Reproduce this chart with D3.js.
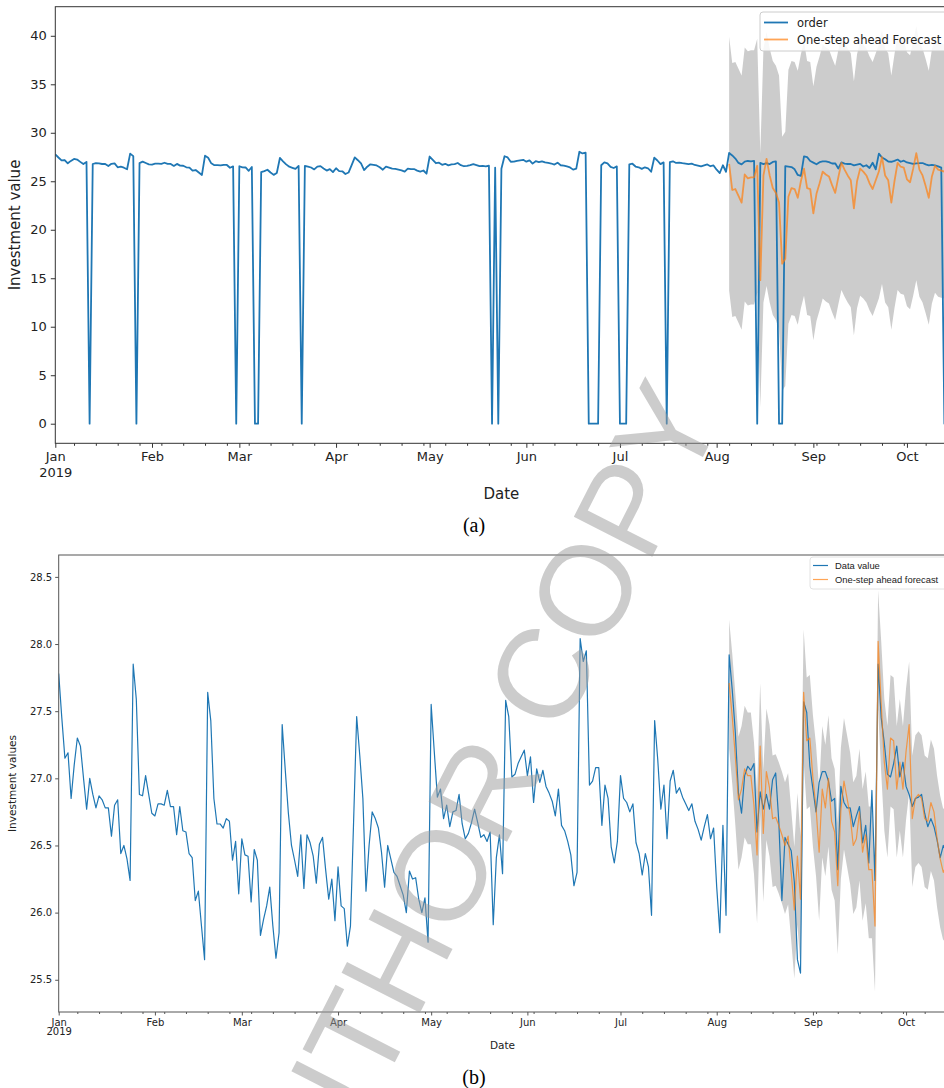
<!DOCTYPE html>
<html>
<head>
<meta charset="utf-8">
<script src="https://cdn.jsdelivr.net/npm/d3@7"></script>
<style>
	body { margin: 0; background: #fff; }
	svg { display: block; }
</style>
</head>
<body>
<svg id="chart" width="944" height="1088"></svg>
<script>
//Values. Day index = days since 1 Jan 2019.
const startDate = new Date(2019, 0, 1);
const endDate = new Date(2019, 9, 14);

//Daily investment value (cleaned series, panel b)
const dataValues = [
	27.78, 27.45, 27.15, 27.19, 26.85, 27.10, 27.30, 27.24, 27.00, 26.77,
	27.00, 26.88, 26.78, 26.87, 26.84, 26.78, 26.78, 26.57, 26.80, 26.84,
	26.44, 26.50, 26.40, 26.24, 27.85, 27.59, 26.88, 26.87, 27.02, 26.88,
	26.74, 26.72, 26.81, 26.81, 26.80, 26.91, 26.79, 26.79, 26.58, 26.79,
	26.61, 26.60, 26.44, 26.41, 26.09, 26.16, 25.90, 25.65, 27.64, 27.43,
	26.85, 26.66, 26.66, 26.63, 26.70, 26.68, 26.39, 26.53, 26.14, 26.55,
	26.43, 26.42, 26.08, 26.47, 26.39, 25.83, 25.95, 26.05, 26.19, 25.90,
	25.66, 25.85, 27.40, 27.06, 26.74, 26.50, 26.39, 26.27, 26.58, 26.18,
	26.58, 26.52, 26.42, 26.22, 26.51, 26.56, 26.32, 26.10, 26.25, 25.94,
	26.34, 26.05, 26.03, 25.75, 25.90, 26.67, 27.46, 27.17, 26.85, 26.16,
	26.50, 26.75, 26.70, 26.63, 26.45, 26.19, 26.50, 26.40, 26.30, 26.27,
	26.20, 26.13, 26.00, 26.31, 26.25, 26.26, 26.10, 26.00, 26.11, 25.78,
	27.55, 27.20, 26.86, 26.92, 26.70, 26.80, 26.64, 26.75, 26.76, 26.88,
	26.66, 26.55, 26.59, 26.67, 26.77, 26.67, 26.56, 26.58, 26.53, 26.60,
	25.91, 26.41, 26.58, 26.29, 27.58, 27.46, 27.01, 27.03, 27.11, 27.16,
	27.21, 27.02, 27.16, 26.82, 27.07, 26.97, 27.06, 26.94, 26.89, 26.83,
	26.72, 26.92, 26.65, 26.61, 26.53, 26.43, 26.20, 26.30, 28.04, 27.87,
	27.95, 26.95, 26.98, 27.08, 27.08, 26.65, 26.95, 26.85, 26.49, 26.37,
	26.53, 27.02, 26.85, 26.82, 26.75, 26.81, 26.52, 26.44, 26.28, 26.44,
	26.34, 25.98, 27.43, 27.14, 26.77, 26.95, 26.55, 26.98, 27.06, 26.89,
	26.93, 26.86, 26.81, 26.76, 26.81, 26.68, 26.62, 26.54, 26.64, 26.73,
	26.55, 26.63, 26.19, 25.85, 26.65, 25.98, 27.92, 27.66, 27.34, 26.89,
	26.74, 27.02, 27.09, 27.06, 27.11, 26.60, 26.90, 26.77, 26.88, 26.77,
	26.99, 27.04, 26.68, 26.09, 26.56, 26.51, 26.46, 26.23, 25.65, 25.55,
	27.57, 27.49, 27.09, 26.92, 26.75, 26.97, 27.05, 27.05, 26.98, 26.83,
	26.85, 26.32, 26.94, 26.82, 26.78, 26.78, 26.64, 26.72, 26.79, 26.52,
	26.65, 26.37, 26.91, 26.24, 27.85, 27.45, 27.26, 27.03, 27.01, 27.11,
	27.24, 27.01, 27.12, 26.94, 26.88, 26.79, 26.85, 26.86, 26.88, 26.74,
	26.64, 26.70, 26.64, 26.54, 26.41, 26.50, 26.45
];

//Days on which the raw order series drops to 0 (panel a)
const zeroDays = [11, 26, 58, 64, 65, 79, 140, 142, 171, 172, 173, 174, 181, 182, 183, 196, 225, 232, 233, 285];

//First day of the one-step ahead forecast
const forecastStart = 216;

//Panel a: forecast and its confidence band
const forecastA = [
	26.8, 24.1, 24.2, 23.5, 22.8, 25.7, 25.3, 25.4, 25.4, 26.6,
	14.8, 25.6, 27.3, 25.6, 24.3, 23.8, 22.8, 16.5, 17.0, 23.4,
	24.3, 24.2, 23.3, 25.0, 26.3, 24.3, 24.2, 21.7, 23.7, 24.8,
	26.0, 25.7, 25.5, 24.6, 23.8, 25.4, 26.9, 26.2, 25.6, 25.1,
	22.2, 25.0, 26.3, 26.0, 25.6, 24.8, 24.2, 25.1, 26.0, 27.5,
	25.6, 25.1, 22.8, 25.0, 26.9, 26.5, 26.4, 25.2, 24.9, 26.3,
	27.9, 26.2, 25.6, 24.5, 23.3, 25.5, 26.6, 26.2, 26.1, 26.0,
	26.0
];
const lowerA = [
	13.7, 11.0, 11.1, 10.4, 9.7, 12.6, 12.2, 12.3, 12.3, 13.5,
	1.7, 12.5, 14.2, 12.5, 11.2, 10.7, 9.7, 3.4, 3.9, 10.3,
	11.2, 11.1, 10.2, 11.9, 13.2, 11.2, 11.1, 8.6, 10.6, 11.7,
	12.9, 12.6, 12.4, 11.5, 10.7, 12.3, 13.8, 13.1, 12.5, 12.0,
	9.1, 11.9, 13.2, 12.9, 12.5, 11.7, 11.1, 12.0, 12.9, 14.4,
	12.5, 12.0, 9.7, 11.9, 13.8, 13.4, 13.3, 12.1, 11.8, 13.2,
	14.8, 13.1, 12.5, 11.4, 10.2, 12.4, 13.5, 13.1, 13.0, 12.9,
	12.9
];
const upperA = [
	39.9, 37.2, 37.3, 36.6, 35.9, 38.8, 38.4, 38.5, 38.5, 39.7,
	27.9, 38.7, 40.4, 38.7, 37.4, 36.9, 35.9, 29.6, 30.1, 36.5,
	37.4, 37.3, 36.4, 38.1, 39.4, 37.4, 37.3, 34.8, 36.8, 37.9,
	39.1, 38.8, 38.6, 37.7, 36.9, 38.5, 40.0, 39.3, 38.7, 38.2,
	35.3, 38.1, 39.4, 39.1, 38.7, 37.9, 37.3, 38.2, 39.1, 40.6,
	38.7, 38.2, 35.9, 38.1, 40.0, 39.6, 39.5, 38.3, 38.0, 39.4,
	41.0, 39.3, 38.7, 37.6, 36.4, 38.6, 39.7, 39.3, 39.2, 39.1,
	39.1
];

//Panel b: forecast and its confidence band
const forecastB = [
	27.71, 27.46, 27.16, 26.84, 26.92, 27.07, 27.02, 27.02, 26.80, 26.43,
	27.24, 26.59, 27.05, 26.93, 26.70, 26.71, 26.65, 26.58, 26.50, 26.57,
	26.30, 26.02, 26.42, 26.10, 27.64, 27.28, 27.30, 27.00, 26.78, 26.45,
	26.92, 26.78, 27.00, 26.68, 26.60, 26.20, 26.76, 26.98, 26.85, 26.72,
	26.50, 26.55, 26.75, 26.45, 26.58, 26.32, 26.32, 25.90, 28.02, 27.55,
	27.12, 26.92, 27.30, 27.28, 26.92, 27.12, 26.92, 27.20, 27.40, 26.70,
	26.85, 26.88, 26.85, 26.70, 26.68, 26.82, 26.75, 26.55, 26.40, 26.30,
	26.35
];
const lowerB = [
	27.22, 26.96, 26.65, 26.32, 26.41, 26.56, 26.51, 26.51, 26.29, 25.92,
	26.73, 26.08, 26.54, 26.42, 26.19, 26.20, 26.14, 26.07, 25.99, 26.06,
	25.79, 25.51, 25.91, 25.59, 27.13, 26.77, 26.79, 26.49, 26.27, 25.94,
	26.41, 26.27, 26.49, 26.17, 26.09, 25.69, 26.25, 26.47, 26.34, 26.21,
	25.99, 26.04, 26.24, 25.94, 26.07, 25.81, 25.81, 25.41, 27.51, 27.04,
	26.61, 26.41, 26.79, 26.77, 26.41, 26.61, 26.41, 26.69, 26.89, 26.19,
	26.34, 26.37, 26.34, 26.19, 26.17, 26.31, 26.24, 26.04, 25.89, 25.79,
	25.84
];
const upperB = [
	28.18, 27.93, 27.63, 27.31, 27.39, 27.54, 27.49, 27.49, 27.27, 26.90,
	27.71, 27.06, 27.52, 27.40, 27.17, 27.18, 27.12, 27.05, 26.97, 27.04,
	26.77, 26.49, 26.89, 26.57, 28.11, 27.75, 27.77, 27.47, 27.25, 26.92,
	27.39, 27.25, 27.47, 27.15, 27.07, 26.67, 27.23, 27.45, 27.32, 27.19,
	26.97, 27.02, 27.22, 26.92, 27.05, 26.79, 26.79, 26.37, 28.40, 28.02,
	27.59, 27.39, 27.77, 27.75, 27.39, 27.59, 27.39, 27.67, 27.87, 27.17,
	27.32, 27.35, 27.32, 27.17, 27.15, 27.29, 27.22, 27.02, 26.87, 26.77,
	26.82
];

const yTicksA = [0, 5, 10, 15, 20, 25, 30, 35, 40];
const yTicksB = [25.5, 26.0, 26.5, 27.0, 27.5, 28.0, 28.5];
const legendA = ["order", "One-step ahead Forecast"];
const legendB = ["Data value", "One-step ahead forecast"];
const captions = ["(a)", "(b)"];
const watermark = "AUTHOR COPY";

const blue = "#1f77b4", orange = "#ff7f0e";
const svg = d3.select("#chart");

function dayDate(i){ return d3.timeDay.offset(startDate, i); }

const observedB = dataValues.map(function(v, i){ return {date: dayDate(i), value: v}; });
const observedA = dataValues.map(function(v, i){
	return {date: dayDate(i), value: zeroDays.indexOf(i) >= 0 ? 0 : v};
});
function forecastRows(f, lo, hi){
	return f.map(function(v, i){
		return {date: dayDate(forecastStart + i), value: v, lo: lo[i], hi: hi[i]};
	});
}

function drawPanel(o){
	const g = svg.append("g");
	const x = d3.scaleTime().domain([startDate, endDate]).range([o.left, o.right]);
	const y = d3.scaleLinear().domain(o.yDomain).range([o.bottom, o.top]);

	g.append("clipPath").attr("id", o.id + "clip")
		.append("rect").attr("x", o.left).attr("y", o.top)
		.attr("width", o.right - o.left).attr("height", o.bottom - o.top);

	const plot = g.append("g").attr("clip-path", "url(#" + o.id + "clip)");
	const line = d3.line().x(function(d){ return x(d.date); }).y(function(d){ return y(d.value); });
	const area = d3.area().x(function(d){ return x(d.date); })
		.y0(function(d){ return y(d.lo); }).y1(function(d){ return y(d.hi); });

	//band first, then observed and forecast lines over it
	plot.append("path").datum(o.forecast).attr("d", area)
		.attr("fill", "#000").attr("fill-opacity", 0.2);
	plot.append("path").datum(o.observed).attr("d", line)
		.attr("fill", "none").attr("stroke", blue).attr("stroke-width", o.lw)
		.attr("stroke-linejoin", "round");
	plot.append("path").datum(o.forecast).attr("d", line)
		.attr("fill", "none").attr("stroke", orange).attr("stroke-opacity", 0.7)
		.attr("stroke-width", o.lw).attr("stroke-linejoin", "round");

	//Set up axes
	const months = d3.timeMonth.range(startDate, d3.timeDay.offset(endDate, 1));
	const mondays = d3.timeMonday.range(startDate, endDate).filter(function(d){ return d.getDate() !== 1; });

	const xMinor = g.append("g").attr("transform", "translate(0," + o.bottom + ")")
		.call(d3.axisBottom(x).tickValues(mondays).tickSize(o.minorTick).tickFormat(""));
	const xMajor = g.append("g").attr("transform", "translate(0," + o.bottom + ")")
		.call(d3.axisBottom(x).tickValues(months).tickSize(o.tick).tickPadding(o.pad)
			.tickFormat(d3.timeFormat("%b")));
	xMajor.selectAll(".tick text").filter(function(d){ return d.getMonth() === 0; })
		.append("tspan").attr("x", 0).attr("dy", o.yearDy).text("2019");

	const yAxis = g.append("g").attr("transform", "translate(" + o.left + ",0)")
		.call(d3.axisLeft(y).tickValues(o.yTicks).tickSize(o.tick).tickPadding(o.pad)
			.tickFormat(o.yFormat));

	[xMinor, xMajor, yAxis].forEach(function(a){
		a.select(".domain").remove();
		a.selectAll(".tick line").attr("stroke", o.spine);
		a.selectAll(".tick text").attr("fill", "#222")
			.style("font-family", "DejaVu Sans").style("font-size", o.tickFont + "px");
	});

	g.append("rect").attr("x", o.left).attr("y", o.top)
		.attr("width", o.right - o.left).attr("height", o.bottom - o.top)
		.attr("fill", "none").attr("stroke", o.spine).attr("stroke-width", 1);

	//Axis titles
	g.append("text").attr("x", (o.left + o.right) / 2).attr("y", o.xLabelY)
		.attr("text-anchor", "middle").attr("fill", "#222")
		.style("font-family", "DejaVu Sans").style("font-size", o.labelFont + "px")
		.text("Date");
	g.append("text")
		.attr("transform", "translate(" + o.yLabelX + "," + ((o.top + o.bottom) / 2) + ") rotate(-90)")
		.attr("text-anchor", "middle").attr("fill", "#222")
		.style("font-family", "DejaVu Sans").style("font-size", o.labelFont + "px")
		.text(o.yLabel);

	//Legend
	const lg = g.append("g");
	lg.append("rect").attr("x", o.legend.x).attr("y", o.legend.y)
		.attr("width", o.legend.w).attr("height", o.legend.h).attr("rx", 3)
		.attr("fill", "#fff").attr("fill-opacity", 0.85)
		.attr("stroke", o.legend.stroke);
	o.legend.labels.forEach(function(label, i){
		const ly = o.legend.rows[i];
		lg.append("line").attr("x1", o.legend.x1).attr("x2", o.legend.x2)
			.attr("y1", ly).attr("y2", ly)
			.attr("stroke", i === 0 ? blue : orange).attr("stroke-opacity", i === 0 ? 1 : 0.7)
			.attr("stroke-width", o.lw);
		lg.append("text").attr("x", o.legend.tx).attr("y", ly).attr("dy", "0.35em")
			.attr("fill", "#222").style("font-family", o.legend.font)
			.style("font-size", o.legend.size + "px").text(label);
	});

	//Caption
	g.append("text").attr("x", 474).attr("y", o.captionY).attr("text-anchor", "middle")
		.attr("fill", "#000").style("font-family", "Liberation Serif").style("font-size", "20px")
		.text(o.caption);
}

drawPanel({
	id: "a", left: 55.3, right: 947.5, top: 6.7, bottom: 443.3,
	yDomain: [-2.02, 43.0], yTicks: yTicksA, yFormat: d3.format("d"),
	observed: observedA, forecast: forecastRows(forecastA, lowerA, upperA),
	lw: 1.8, spine: "#333", tick: 4.5, minorTick: 2.5, pad: 4, tickFont: 13,
	yearDy: "1.2em", labelFont: 15, xLabelY: 499, yLabelX: 20,
	yLabel: "Investment value",
	legend: {x: 760, y: 12, w: 190, h: 39, stroke: "#cccccc", x1: 764, x2: 788, tx: 797,
		rows: [22.5, 39.5], labels: legendA, font: "DejaVu Sans", size: 11.5},
	caption: captions[0], captionY: 532
});

drawPanel({
	id: "b", left: 58.7, right: 946.4, top: 555, bottom: 1012,
	yDomain: [25.26, 28.663], yTicks: yTicksB, yFormat: d3.format(".1f"),
	observed: observedB, forecast: forecastRows(forecastB, lowerB, upperB),
	lw: 1.2, spine: "#555", tick: 3.5, minorTick: 2, pad: 3, tickFont: 10,
	yearDy: "0.95em", labelFont: 10.5, xLabelY: 1049, yLabelX: 16,
	yLabel: "Investment values",
	legend: {x: 810, y: 557, w: 140, h: 32, stroke: "#e2e2e2", x1: 813, x2: 828, tx: 835,
		rows: [565.5, 579.5], labels: legendB, font: "Liberation Sans", size: 9.4},
	caption: captions[1], captionY: 1084
});

//Watermark laid over both panels
svg.append("text")
	.attr("transform", "translate(512,832) rotate(-63)")
	.attr("text-anchor", "middle")
	.attr("fill", "#9a9a9a").attr("fill-opacity", 0.5)
	.style("font-family", "Liberation Sans").style("font-size", "128px")
	.text(watermark);
</script>
</body>
</html>
